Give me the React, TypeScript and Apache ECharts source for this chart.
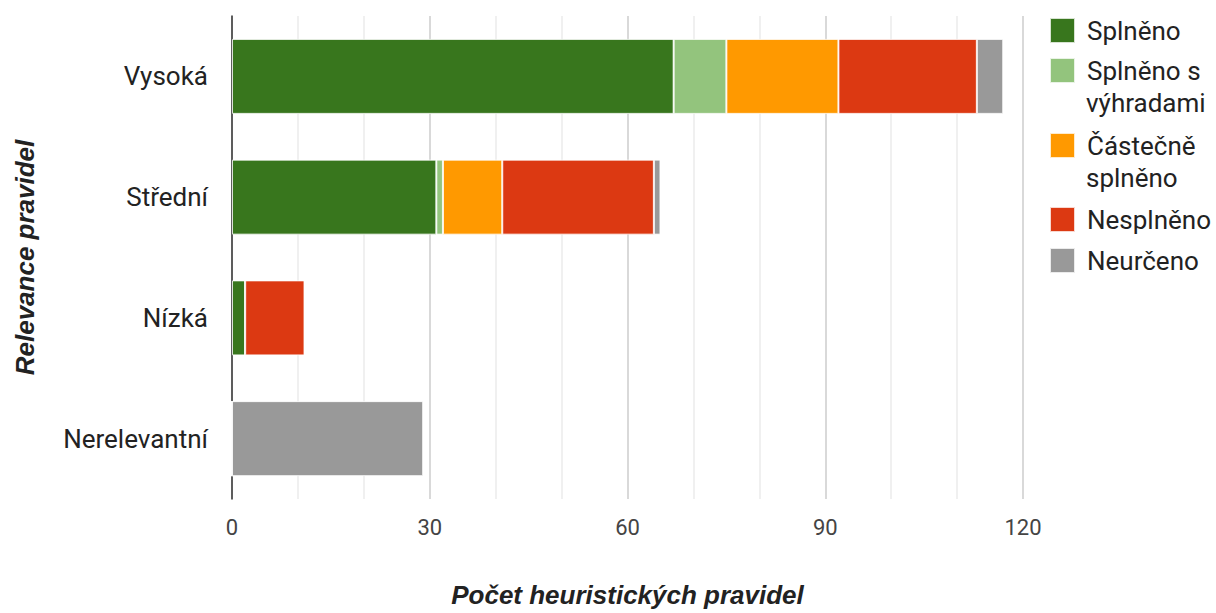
import React, { useEffect, useRef } from "react";
import * as echarts from "echarts";

const categories = ["Vysoká", "Střední", "Nízká", "Nerelevantní"];
const seriesNames = ["Splněno", "Splněno s výhradami", "Částečně splněno", "Nesplněno", "Neurčeno"];
const legendFirstLines = ["Splněno", "Splněno s", "Částečně", "Nesplněno", "Neurčeno"];
const legendSecondLines = ["", "výhradami", "splněno", "", ""];
const splneno = [67, 31, 2, 0];
const splnenoSVyhradami = [8, 1, 0, 0];
const castecneSplneno = [17, 9, 0, 0];
const nesplneno = [21, 23, 9, 0];
const neurceno = [4, 1, 0, 29];
const xTicks = [0, 30, 60, 90, 120];

const colors = ["#38761d", "#93c47d", "#ff9900", "#dc3912", "#999999"];
const legendTops = [17, 57, 132, 206, 247];

export default function App() {
  const ref = useRef<HTMLDivElement>(null);
  useEffect(() => {
    if (!ref.current) return;
    const chart = echarts.init(ref.current, undefined, { renderer: "svg" });
    const values = [splneno, splnenoSVyhradami, castecneSplneno, nesplneno, neurceno];
    const labelFont = "Roboto, 'Liberation Sans', Arial, sans-serif";
    const titleFont = "'Liberation Sans', Arial, sans-serif";
    const legendFontSize = 26;
    chart.setOption({
      animation: false,
      color: colors,
      grid: { left: 232, right: 193, top: 16, bottom: 109, containLabel: false },
      xAxis: {
        type: "value",
        min: xTicks[0],
        max: xTicks[xTicks.length - 1],
        interval: 30,
        name: "Počet heuristických pravidel",
        nameLocation: "middle",
        nameGap: 83,
        nameTextStyle: {
          fontFamily: titleFont,
          fontWeight: "bold",
          fontStyle: "italic",
          fontSize: 26,
          color: "#222",
        },
        axisLine: { show: false },
        axisTick: { show: false },
        axisLabel: { fontFamily: labelFont, fontSize: 22, color: "#444", margin: 17 },
        splitLine: { show: true, lineStyle: { color: "#cccccc", width: 1.5 } },
        minorTick: { show: false, splitNumber: 3 },
        minorSplitLine: { show: true, lineStyle: { color: "#ebebeb", width: 1.5 } },
      },
      yAxis: {
        type: "category",
        data: categories,
        inverse: true,
        name: "Relevance pravidel",
        nameLocation: "middle",
        nameGap: 194,
        nameTextStyle: {
          fontFamily: titleFont,
          fontWeight: "bold",
          fontStyle: "italic",
          fontSize: 26,
          color: "#222",
        },
        axisLine: { show: true, lineStyle: { color: "#333", width: 1.5 } },
        axisTick: { show: false },
        axisLabel: { fontFamily: labelFont, fontSize: 26, color: "#222", margin: 24 },
      },
      legend: seriesNames.map((n, i) => ({
        data: [n],
        left: 1049,
        top: legendTops[i],
        orient: "vertical",
        padding: 0,
        itemWidth: 25,
        itemHeight: 25,
        icon: "rect",
        selectedMode: false,
        formatter: () => legendFirstLines[i],
        textStyle: {
          fontFamily: labelFont,
          fontSize: legendFontSize,
          color: "#222",
          lineHeight: 25,
          padding: [0, 0, 0, 7],
        },
      })),
      graphic: legendSecondLines
        .map((t, i) => ({ t, i }))
        .filter((o) => o.t)
        .map((o) => ({
          type: "text",
          left: 1086,
          top: legendTops[o.i] + 33,
          style: {
            text: o.t,
            fontFamily: labelFont,
            fontSize: legendFontSize,
            lineHeight: 25,
            fill: "#222",
          },
        })),
      series: seriesNames.map((n, i) => ({
        name: n,
        type: "bar",
        stack: "total",
        barWidth: 75,
        data: values[i],
        itemStyle: { color: colors[i], borderColor: "rgba(255,255,255,0.8)", borderWidth: 1 },
        emphasis: { disabled: true },
      })),
    });
    return () => chart.dispose();
  }, []);
  return (
    <div
      ref={ref}
      style={{ position: "fixed", left: 0, top: 0, width: 1216, height: 613, background: "#fff" }}
    />
  );
}
